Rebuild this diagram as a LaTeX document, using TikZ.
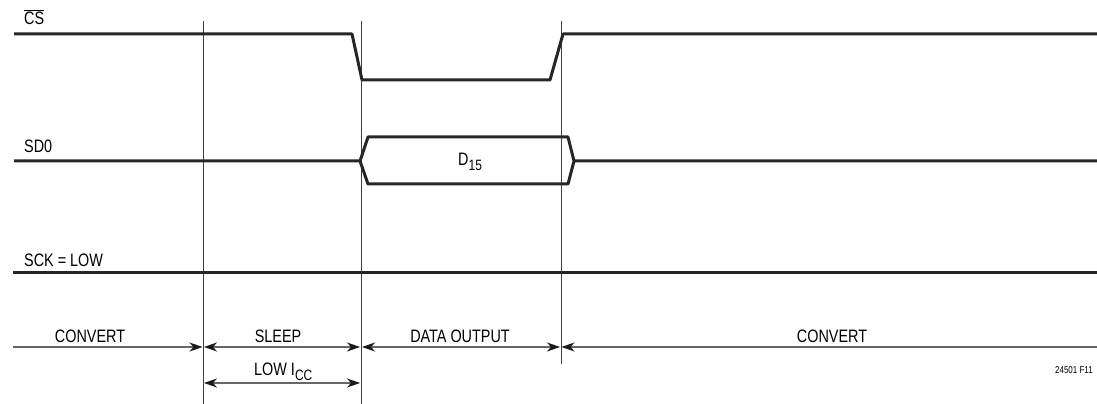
\documentclass[tikz,border=0pt]{standalone}
\usepackage{fontspec}
\setmainfont[FakeStretch=0.8]{Liberation Sans}
\usetikzlibrary{arrows,arrows.meta,calc,positioning}
\newcommand\barsig[1]{\leavevmode\vbox{\hrule height 0.9pt\kern1.6pt\hbox{#1}}}
\newcommand\lowsub[1]{\raisebox{-0.45ex}{\fontsize{15}{15}\selectfont #1}}

\begin{document}
\begin{tikzpicture}[x=1pt,y=1pt,line join=round,
	>={Stealth[length=13pt,width=9pt,inset=4pt,color=black!90]},
	sig/.style={line width=3pt,black!85},
	grid/.style={line width=0.8pt,black!75},
	span/.style={line width=1.2pt,black!60},
	lbl/.style={inner sep=0pt,font=\fontsize{18}{21}\selectfont}]
		\useasboundingbox (0,0) rectangle (1097,404);
		\coordinate (L) at (13,0);
		\coordinate (A) at (203,0);
		\coordinate (B) at (361,0);
		\coordinate (C) at (561,0);
		\coordinate (R) at (1097,0);
		\draw[grid](A|-0,383)--(A) (B|-0,383)--(B) (C|-0,383)--(C|-0,40);
		\draw[sig](14,370)--(352,370)--(362,324)--(550,324)--(563,370)--(1097,370);
		\draw[sig](14,243)--(360,243)--(368,267)--(568,267)--(574,243)--(1097,243)
			(360,243)--(368,220)--(568,220)--(574,243);
		\draw[sig](13,131)--(1097,131);
		\coordinate (P0) at (L|-0,57);
		\coordinate (P1) at (A|-0,57);
		\coordinate (P2) at (B|-0,57);
		\coordinate (P3) at (C|-0,57);
		\coordinate (P4) at (R|-0,57);
		\coordinate (Q1) at (A|-0,21);
		\coordinate (Q2) at (B|-0,21);
		\draw[span,->](P0)--([xshift=-0.5pt]P1);
		\draw[span,->](P4)--([xshift=0.5pt]P3);
		\foreach \s/\e in {P1/P2,P2/P3,Q1/Q2}{\draw[span,<->]([xshift=1pt]\s)--([xshift=-1pt]\e);}
		\node[lbl,anchor=base west] (cs) at (24,379) {\barsig{CS}};
		\node[lbl,anchor=base west] (sdo) at (24,251) {SD0};
		\node[lbl,anchor=base west] (sck) at (24,137) {SCK = LOW};
		\node[lbl,anchor=base west] (dat) at (458,238) {D\lowsub{15}};
		\foreach \n/\x/\t in {cv1/90/CONVERT,slp/278/SLEEP,out/460/DATA OUTPUT,cv2/832/CONVERT}{\node[lbl,anchor=base] (\n) at (\x,61) {\t};}
		\node[lbl,anchor=base west] (icc) at (254,28) {LOW I\lowsub{CC}};
		\node[inner sep=0pt,anchor=base east,font=\fontsize{10}{12}\selectfont] (fig) at (1093,30) {24501 F11};
		\end{tikzpicture}
\end{document}
